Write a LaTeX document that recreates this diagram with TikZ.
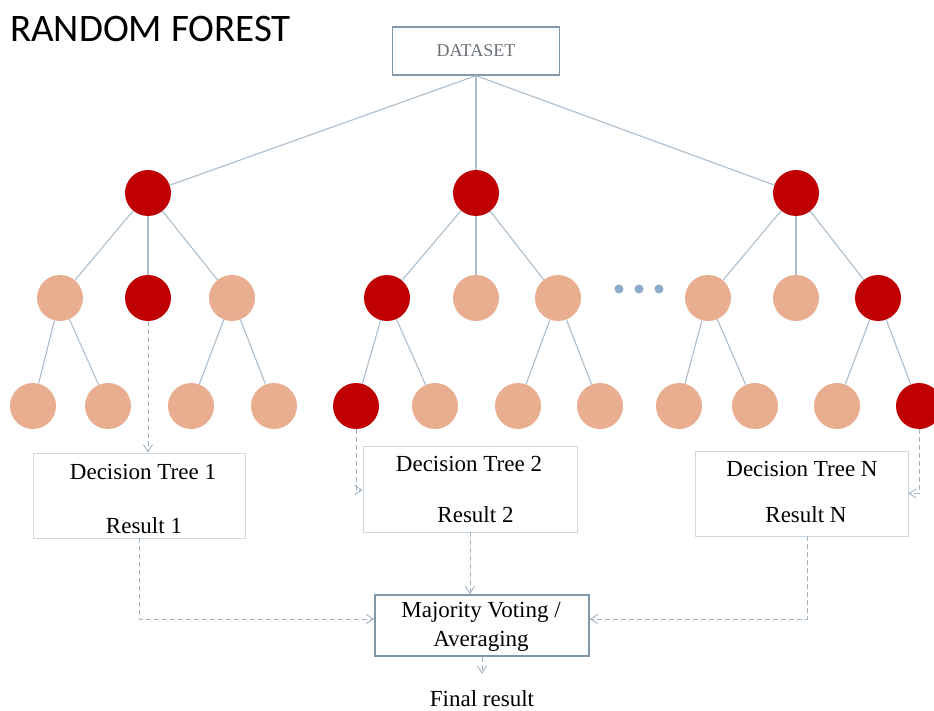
\documentclass[tikz,border=0pt]{standalone}
\usepackage{fontspec}
\setmainfont{Liberation Serif}
\newfontfamily\titlefont{Carlito}
\usetikzlibrary{arrows.meta}
\definecolor{darkred}{RGB}{192,0,0}
\definecolor{peach}{RGB}{233,173,143}
\definecolor{edgecol}{RGB}{172,190,206}
\definecolor{dashcol}{RGB}{160,180,198}
\definecolor{boxcol}{RGB}{128,152,170}
\definecolor{lightbox}{RGB}{205,216,226}
\definecolor{dotcol}{RGB}{140,171,200}
\definecolor{dstext}{RGB}{105,112,120}
\begin{document}
\begin{tikzpicture}[x=1pt,y=-1pt,
  dk/.style={circle,fill=darkred,minimum size=46pt,inner sep=0pt},
  lt/.style={circle,fill=peach,minimum size=46pt,inner sep=0pt},
  dotnode/.style={circle,fill=dotcol,minimum size=9pt,inner sep=0pt},
  edge/.style={draw=edgecol,line width=1.1pt},
  dsh/.style={draw=dashcol,line width=0.9pt,dash pattern=on 5pt off 3pt,-{Straight Barb[length=7pt,width=9pt]}},
  dtbox/.style={draw=lightbox,line width=0.9pt,minimum width=213pt,minimum height=85pt,inner sep=0pt},
  txt/.style={anchor=base,inner sep=0pt,font=\fontsize{23}{27}\selectfont}]
\useasboundingbox (0,0) rectangle (934,711);
\fill[white] (0,0) rectangle (934,711);

\node[anchor=base west,inner sep=0pt,font=\titlefont\fontsize{39}{43}\selectfont] (title) at (10,42) {RANDOM FOREST};

\node[draw=boxcol,line width=1.4pt,minimum width=167pt,minimum height=48pt,inner sep=0pt,
      text=dstext,font=\fontsize{18}{20}\selectfont] (ds) at (476,51) {DATASET};

% roots
\node[dk] (r1) at (148,193) {};
\node[dk] (r2) at (476,193) {};
\node[dk] (r3) at (796,193) {};
% level 2
\node[lt] (a1) at (60,298) {};
\node[dk] (a2) at (148,298) {};
\node[lt] (a3) at (232,298) {};
\node[dk] (b1) at (387,298) {};
\node[lt] (b2) at (476,298) {};
\node[lt] (b3) at (558,298) {};
\node[lt] (c1) at (708,298) {};
\node[lt] (c2) at (796,298) {};
\node[dk] (c3) at (878,298) {};
% dots
\node[dotnode] (d1) at (619,289) {};
\node[dotnode] (d2) at (639,289) {};
\node[dotnode] (d3) at (659,289) {};
% level 3
\node[lt] (a11) at (33,406) {};
\node[lt] (a12) at (108,406) {};
\node[lt] (a31) at (191,406) {};
\node[lt] (a32) at (274,406) {};
\node[dk] (b11) at (356,406) {};
\node[lt] (b12) at (435,406) {};
\node[lt] (b31) at (518,406) {};
\node[lt] (b32) at (600,406) {};
\node[lt] (c11) at (679,406) {};
\node[lt] (c12) at (755,406) {};
\node[lt] (c31) at (837,406) {};
\node[dk] (c32) at (919,406) {};

% edges
\draw[edge] (ds.south) -- (r1);
\draw[edge] (ds.south) -- (r2);
\draw[edge] (ds.south) -- (r3);
\foreach \p/\c in {r1/a1,r1/a2,r1/a3,r2/b1,r2/b2,r2/b3,r3/c1,r3/c2,r3/c3,
  a1/a11,a1/a12,a3/a31,a3/a32,b1/b11,b1/b12,b3/b31,b3/b32,c1/c11,c1/c12,c3/c31,c3/c32}
  \draw[edge] (\p) -- (\c);

% decision tree boxes
\node[dtbox,minimum width=212pt,minimum height=85pt] (t1) at (139,495.5) {};
\node[txt] (t1a) at (143,479) {Decision Tree 1};
\node[txt] (t1b) at (144,533) {Result 1};
\node[dtbox,minimum width=214pt,minimum height=86pt] (t2) at (470,489) {};
\node[txt] (t2a) at (469,471) {Decision Tree 2};
\node[txt] (t2b) at (475.5,522) {Result 2};
\node[dtbox,minimum width=213pt,minimum height=85pt] (tn) at (801.5,493.5) {};
\node[txt] (tna) at (802,476) {Decision Tree N};
\node[txt] (tnb) at (806,522) {Result N};

% majority box
\node[draw=boxcol,line width=1.6pt,minimum width=214pt,minimum height=61pt,inner sep=0pt] (mj) at (482,625.5) {};
\node[txt] (mja) at (481,617) {Majority Voting /};
\node[txt] (mjb) at (481,646) {Averaging};
\node[txt] (fin) at (482,706) {Final result};

% dashed connectors
\draw[dsh] (a2.south) -- (a2.south |- t1.north);
\draw[dsh] (b11.south) |- ([yshift=-1pt]t2.west);
\draw[dsh] (c32.south) |- (tn.east);
\draw[dsh] (t1.south) |- ([yshift=6.5pt]mj.west);
\draw[dsh] (t2.south) -- (t2.south |- mj.north);
\draw[dsh] ([xshift=5.5pt]tn.south) |- ([yshift=6.5pt]mj.east);
\draw[dsh] (mj.south) -- ++(0,17);
\end{tikzpicture}
\end{document}
